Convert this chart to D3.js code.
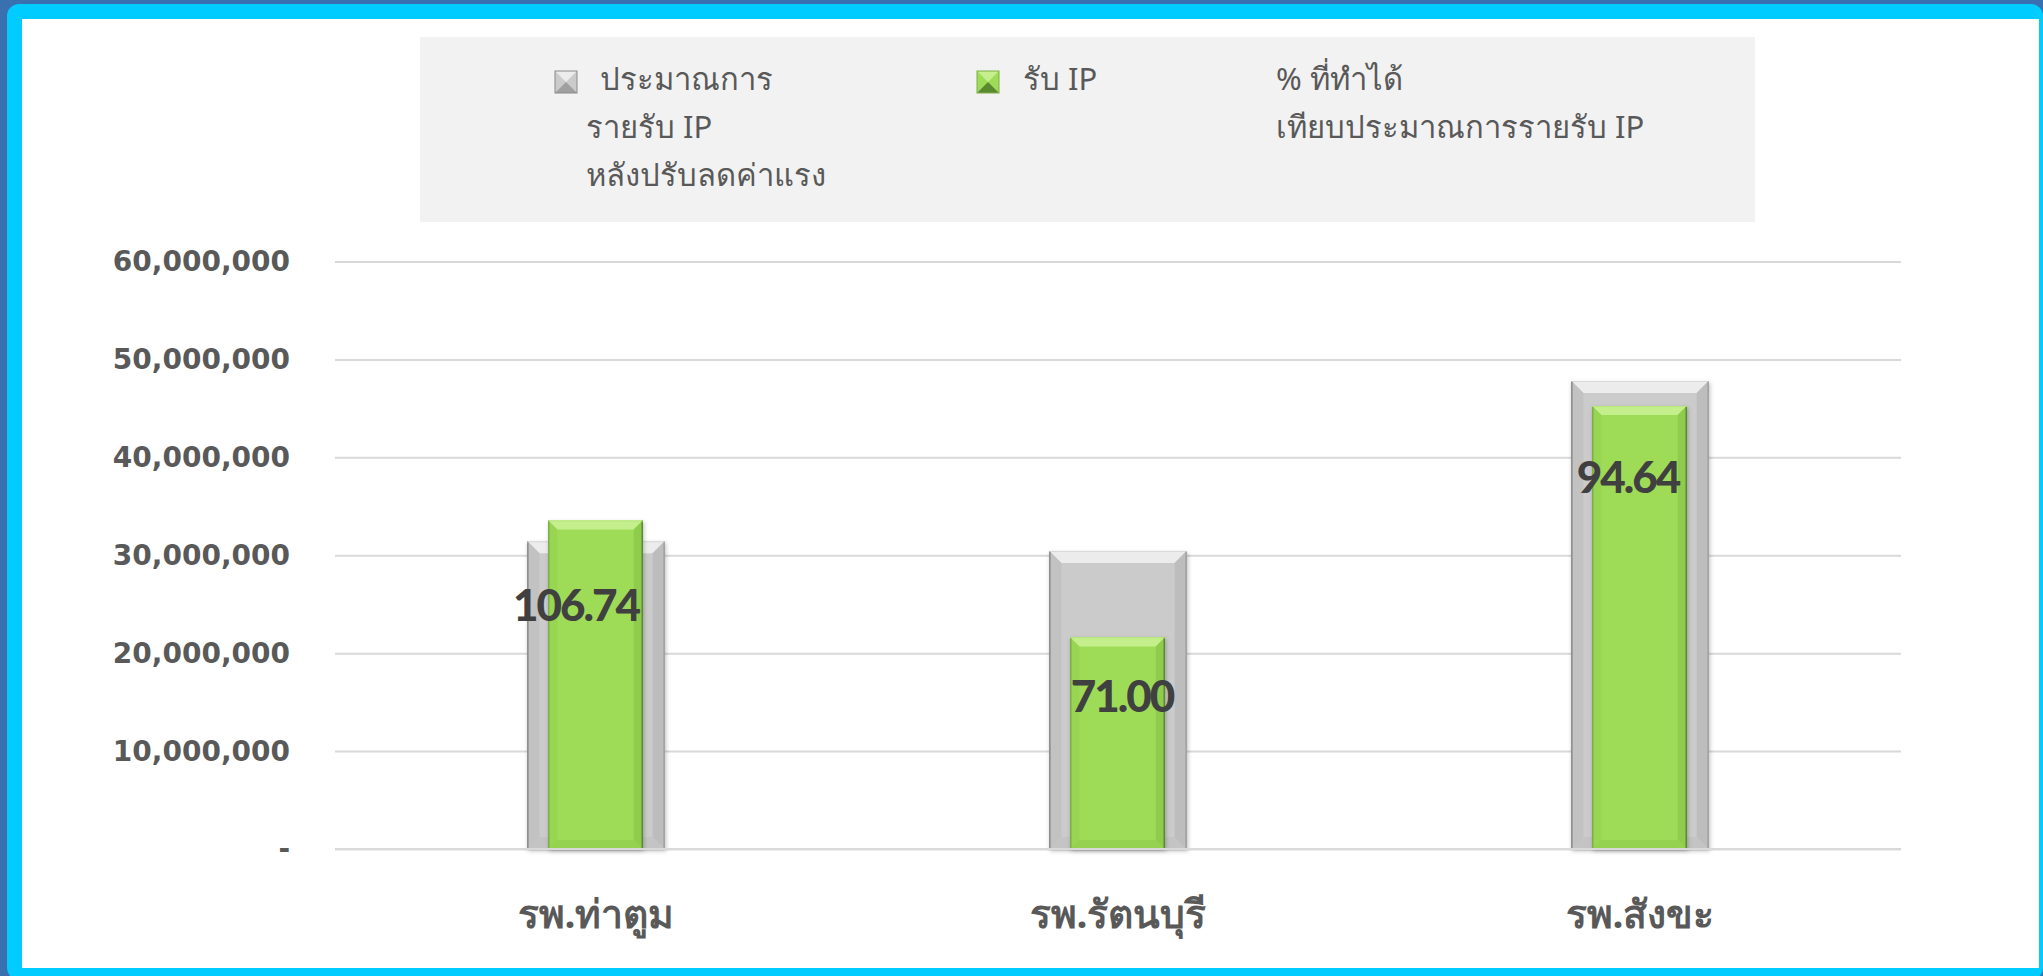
<!DOCTYPE html>
<html>
<head>
<meta charset="utf-8">
<script src="https://cdn.jsdelivr.net/npm/d3@7"></script>
<style>
  body { margin: 0; background: #00ccff; }
  svg { display: block; }
</style>
</head>
<body>
<svg id="chart" width="2043" height="976"></svg>
<script>
'use strict';

// data
var categories = ['รพ.ท่าตูม', 'รพ.รัตนบุรี', 'รพ.สังขะ'];
var budgetIP = [31420000, 30440000, 47800000];   // ประมาณการรายรับ IP หลังปรับลดค่าแรง
var incomeIP = [33540000, 21610000, 45240000];   // รับ IP
var percentDone = [106.74, 71.00, 94.64];        // % ที่ทำได้
var yTicks = [0, 10000000, 20000000, 30000000, 40000000, 50000000, 60000000];
var legendBudget = ['ประมาณการ', 'รายรับ IP', 'หลังปรับลดค่าแรง'];
var legendIncome = ['รับ IP'];
var legendPercent = ['% ที่ทำได้', 'เทียบประมาณการรายรับ IP'];

var W = 2043, H = 976;
var plot = { left: 335, right: 1901, top: 261.5, bottom: 849 };

var svg = d3.select('#chart');

// frame
svg.append('rect').attr('width', W).attr('height', H).attr('fill', '#3a6fb0');
svg.append('rect').attr('x', 7).attr('y', 4).attr('width', W - 7).attr('height', H)
  .attr('rx', 12).attr('fill', '#00ccff');
svg.append('rect').attr('x', 22).attr('y', 19).attr('width', 2017).attr('height', 949)
  .attr('fill', '#ffffff');

var defs = svg.append('defs');
defs.append('filter').attr('id', 'shadow').attr('x', '-20%').attr('y', '-5%')
  .attr('width', '140%').attr('height', '115%')
  .append('feDropShadow').attr('dx', 1).attr('dy', 2).attr('stdDeviation', 2)
  .attr('flood-color', '#000').attr('flood-opacity', 0.25);

var x = d3.scaleBand().domain(categories).range([plot.left, plot.right]);
var y = d3.scaleLinear().domain([0, 60000000]).range([plot.bottom, plot.top]);

// gridlines + y axis
var yAxis = d3.axisLeft(y).tickValues(yTicks).tickSize(-(plot.right - plot.left)).tickPadding(45)
  .tickFormat(function(d) { return d === 0 ? '-' : d3.format(',')(d); });
var gy = svg.append('g').attr('transform', 'translate(' + plot.left + ',0)').call(yAxis);
gy.select('.domain').remove();
gy.selectAll('.tick line').attr('stroke', '#d9d9d9').attr('stroke-width', 2);
gy.selectAll('.tick text').attr('fill', '#595959').attr('font-size', 28).attr('font-weight', 700)
  .attr('font-family', '"DejaVu Sans", sans-serif');

// bevelled bar
function bevelBar(g, x0, w, yTop, yBot, c, b) {
  var bar = g.append('g').attr('filter', 'url(#shadow)');
  bar.append('rect').attr('x', x0).attr('y', yTop).attr('width', w).attr('height', yBot - yTop)
    .attr('fill', c.face);
  var x1 = x0 + w;
  var polys = [
    { p: [[x0, yTop], [x1, yTop], [x1 - b, yTop + b], [x0 + b, yTop + b]], f: c.top },
    { p: [[x0, yTop], [x0 + b, yTop + b], [x0 + b, yBot - b], [x0, yBot]], f: c.left },
    { p: [[x1, yTop], [x1 - b, yTop + b], [x1 - b, yBot - b], [x1, yBot]], f: c.right },
    { p: [[x0, yBot], [x0 + b, yBot - b], [x1 - b, yBot - b], [x1, yBot]], f: c.bottom }
  ];
  polys.forEach(function(d) {
    bar.append('polygon').attr('points', d.p.map(function(q) { return q.join(','); }).join(' '))
      .attr('fill', d.f);
  });
  bar.append('line').attr('x1', x0 + 0.5).attr('x2', x0 + 0.5).attr('y1', yTop).attr('y2', yBot)
    .attr('stroke', c.edgeL).attr('stroke-width', 1.5);
  bar.append('line').attr('x1', x1 - 0.5).attr('x2', x1 - 0.5).attr('y1', yTop).attr('y2', yBot)
    .attr('stroke', c.edgeR).attr('stroke-width', 1.5);
  bar.append('line').attr('x1', x0).attr('x2', x1).attr('y1', yTop + 0.5).attr('y2', yTop + 0.5)
    .attr('stroke', c.edgeT).attr('stroke-width', 1);
}

var grayStyle = { face: '#cbcbcb', top: '#ececec', left: '#c2c2c2', right: '#bdbdbd',
  bottom: '#c4c4c4', edgeL: '#8a8a8a', edgeR: '#a0a0a0', edgeT: '#d8d8d8' };
var greenStyle = { face: '#9edc58', top: '#c4ef8c', left: '#98d552', right: '#8fcc4c',
  bottom: '#95d250', edgeL: '#7eae46', edgeR: '#5a8a30', edgeT: '#b6e87a' };

var bars = svg.append('g');
var grayW = x.bandwidth() * 0.263, greenW = x.bandwidth() * 0.181;
categories.forEach(function(cat, i) {
  var cx = x(cat) + x.bandwidth() / 2;
  bevelBar(bars, cx - grayW / 2, grayW, y(budgetIP[i]), y(0), grayStyle, 12);
});
categories.forEach(function(cat, i) {
  var cx = x(cat) + x.bandwidth() / 2;
  bevelBar(bars, cx - greenW / 2 - 0.5, greenW, y(incomeIP[i]), y(0), greenStyle, 9);
});

// baseline
svg.append('line').attr('x1', plot.left).attr('x2', plot.right)
  .attr('y1', y(0)).attr('y2', y(0)).attr('stroke', '#d9d9d9').attr('stroke-width', 2);

// % labels (placed by hand in the original, offsets from the green bar top)
var labelShift = [[-20, 100], [4, 75], [-12, 87]];
svg.append('g').selectAll('text').data(percentDone).join('text')
  .attr('x', function(d, i) { return x(categories[i]) + x.bandwidth() / 2 + labelShift[i][0]; })
  .attr('y', function(d, i) { return y(incomeIP[i]) + labelShift[i][1]; })
  .attr('text-anchor', 'middle')
  .attr('font-family', 'Lato, sans-serif').attr('font-weight', 900).attr('font-size', 44)
  .attr('letter-spacing', -2)
  .attr('fill', '#404040')
  .text(function(d) { return d3.format('.2f')(d); });

// category labels
var xAxis = d3.axisBottom(x).tickSize(0).tickPadding(0);
var gx = svg.append('g').attr('transform', 'translate(0,' + 928 + ')').call(xAxis);
gx.select('.domain').remove();
gx.selectAll('.tick text').attr('fill', '#595959').attr('font-size', 39).attr('font-weight', 700)
  .attr('dy', 0).attr('font-family', '"Noto Sans", sans-serif');

// legend
var lg = svg.append('g');
lg.append('rect').attr('x', 420).attr('y', 37).attr('width', 1335).attr('height', 185)
  .attr('fill', '#f2f2f2');

function legendMarker(xm, ym, c) {
  var s = 22;
  var m = lg.append('g');
  m.append('rect').attr('x', xm).attr('y', ym).attr('width', s).attr('height', s).attr('fill', c.face);
  m.append('polygon').attr('points', [[xm, ym], [xm + s, ym], [xm + s / 2, ym + s / 2]].join(' '))
    .attr('fill', c.top);
  m.append('polygon').attr('points', [[xm, ym + s], [xm + s, ym + s], [xm + s / 2, ym + s / 2]].join(' '))
    .attr('fill', c.edgeR);
  m.append('rect').attr('x', xm).attr('y', ym).attr('width', s).attr('height', s)
    .attr('fill', 'none').attr('stroke', c.edgeL).attr('stroke-width', 1);
}

function legendText(x0, x1, lines) {
  var t = lg.append('text').attr('font-size', 31).attr('fill', '#595959')
    .attr('font-family', '"Noto Sans", sans-serif');
  lines.forEach(function(s, i) {
    t.append('tspan').attr('x', i === 0 ? x0 : x1).attr('y', 90 + i * 48).text(s);
  });
}

legendMarker(555, 71, grayStyle);
legendText(600, 586, legendBudget);
legendMarker(977, 71, greenStyle);
legendText(1023, 1023, legendIncome);
legendText(1276, 1276, legendPercent);
</script>
</body>
</html>
